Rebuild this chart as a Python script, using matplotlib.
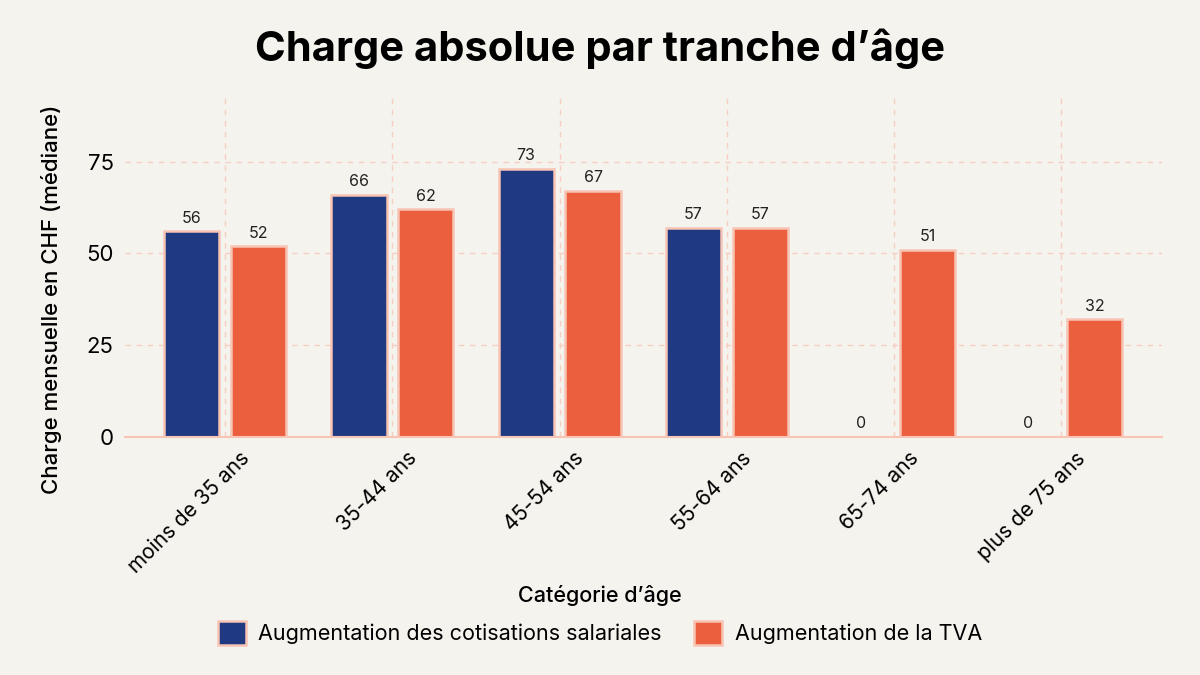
import matplotlib
matplotlib.use("Agg")
import matplotlib.pyplot as plt
import matplotlib.transforms as mtransforms
import numpy as np

categories = ["moins de 35 ans", "35-44 ans", "45-54 ans", "55-64 ans", "65-74 ans", "plus de 75 ans"]
cotisations = [56, 66, 73, 57, 0, 0]
tva = [52, 62, 67, 57, 51, 32]
series_names = ["Augmentation des cotisations salariales", "Augmentation de la TVA"]

bg = "#f5f3ee"
blue = "#1f3a80"
orange = "#ec5f3e"
edge = "#f8c4b4"
grid = "#f6cfc2"

plt.rcParams["font.family"] = ["Inter", "DejaVu Sans"]

fig = plt.figure(figsize=(12, 6.75), dpi=100, facecolor=bg)
ax = fig.add_axes([0.104, 0.3526, 0.864, 0.506], facecolor=bg)

x = np.arange(len(categories))
w = 0.33
b1 = ax.bar(x - 0.2, cotisations, w, color=blue, edgecolor=edge, linewidth=1.8, label=series_names[0], zorder=3)
b2 = ax.bar(x + 0.2, tva, w, color=orange, edgecolor=edge, linewidth=1.8, label=series_names[1], zorder=3)

for bars in (b1, b2):
    for r in bars:
        h = r.get_height()
        ax.text(r.get_x() + r.get_width() / 2, h + 1.5, f"{h:.0f}", ha="center", va="bottom",
                fontsize=11.5, color="#222222")

ax.set_xlim(-0.6, 5.6)
ax.set_ylim(0, 93)
ax.set_yticks([0, 25, 50, 75])
ax.set_xticks(x)
ax.set_xticklabels(categories, rotation=45, ha="right", rotation_mode="anchor", fontsize=15)
ax.tick_params(axis="y", labelsize=16, length=0, pad=8)
ax.tick_params(axis="x", length=0, pad=8)
# shift x tick labels a bit to the right, like the reference
shift = mtransforms.ScaledTranslation(14 / 100, 0, fig.dpi_scale_trans)
for lab in ax.get_xticklabels():
    lab.set_transform(lab.get_transform() + shift)

ax.grid(True, color=grid, linestyle=(0, (4, 4)), linewidth=1, zorder=0)
for s in ["top", "right", "left"]:
    ax.spines[s].set_visible(False)
ax.spines["bottom"].set_color(edge)
ax.spines["bottom"].set_linewidth(1.5)
ax.spines["bottom"].set_zorder(4)

fig.text(52 / 1200, 1 - 299 / 675, "Charge mensuelle en CHF (médiane)", rotation=90, ha="center", va="center",
         fontsize=16, fontweight="medium")
fig.text(0.5, 0.118, "Catégorie d\u2019âge", ha="center", va="center", fontsize=15.5, fontweight="medium")
fig.text(0.5, 0.928, "Charge absolue par tranche d\u2019âge", ha="center", va="center",
         fontsize=30, fontweight="bold")

leg = fig.legend(handles=[b1, b2], labels=series_names, loc="center", bbox_to_anchor=(0.5, 0.062),
                 ncol=2, frameon=False, fontsize=15.5, handlelength=1.3, handleheight=1.3,
                 columnspacing=1.5, handletextpad=0.6)

fig.savefig("out.png", dpi=100, facecolor=bg)
